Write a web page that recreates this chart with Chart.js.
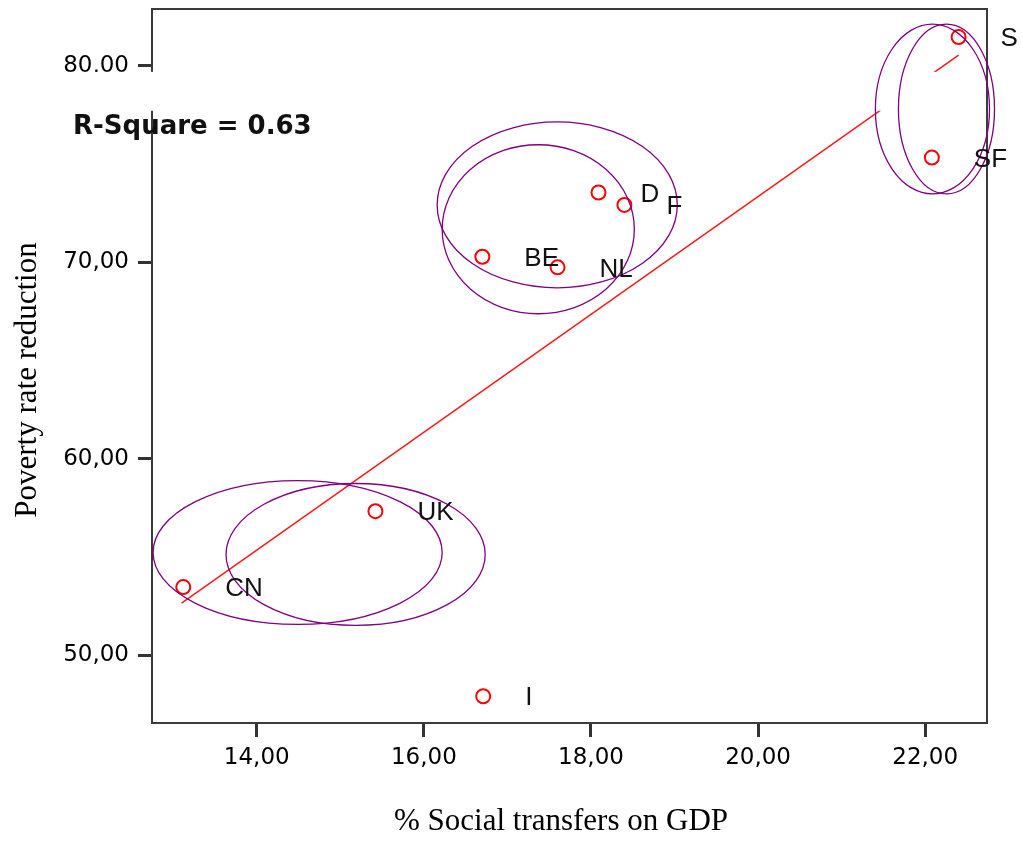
<!DOCTYPE html>
<html>
<head>
<meta charset="utf-8">
<script src="https://cdn.jsdelivr.net/npm/chart.js@4.4.0/dist/chart.umd.min.js"></script>
<style>
  html, body { margin: 0; padding: 0; background: #fff; }
  #wrap { width: 1022px; height: 841px; }
</style>
</head>
<body>
<div id="wrap"><canvas id="chart" width="1022" height="841"></canvas></div>
<script>
// data
var countries = ['S', 'SF', 'D', 'F', 'BE', 'NL', 'UK', 'CN', 'I'];
var transfers = [22.40, 22.08, 18.09, 18.40, 16.70, 17.60, 15.42, 13.12, 16.71];
var povertyReduction = [81.47, 75.34, 73.56, 72.93, 70.29, 69.75, 57.34, 53.48, 47.92];

// fit line end points
var fitX = [13.10, 22.40];
var fitY = [52.66, 80.55];

var xTicks = [14, 16, 18, 20, 22];
var yTicks = [50, 60, 70, 80];

// hand drawn group ellipses (data units)
var ellipseCx = [22.087, 22.255, 17.596, 17.369, 14.489, 15.183];
var ellipseCy = [77.81, 77.81, 72.93, 71.69, 55.24, 55.14];
var ellipseRx = [0.683, 0.575, 1.437, 1.150, 1.730, 1.551];
var ellipseRy = [4.32, 4.32, 4.22, 4.30, 3.66, 3.61];

var rSquareText = 'R-Square = 0.63';
var xTitle = '% Social transfers on GDP';
var yTitle = 'Poverty rate reduction';

var points = transfers.map(function (x, i) { return {x: x, y: povertyReduction[i]}; });
var fitPoints = fitX.map(function (x, i) { return {x: x, y: fitY[i]}; });

function fmt(v) {
    return v.toFixed(2).replace('.', ',');
}

var extras = {
    id: 'extras',
    beforeDatasetsDraw: function (chart) {
        var ctx = chart.ctx, a = chart.chartArea;
        ctx.save();
        ctx.strokeStyle = '#3c3c3c';
        ctx.lineWidth = 2;
        ctx.strokeRect(a.left, a.top, a.right - a.left, a.bottom - a.top);
        ctx.restore();
    },
    afterDatasetsDraw: function (chart) {
        var ctx = chart.ctx, xs = chart.scales.x, ys = chart.scales.y;
        ctx.save();

        // white band pasted over the picture behind the R-Square note
        var bandTop = ys.getPixelForValue(79.70);
        var bandBottom = ys.getPixelForValue(77.72);
        var bandRight = xs.getPixelForValue(22.43);
        ctx.fillStyle = '#fff';
        ctx.fillRect(55, bandTop, bandRight - 55, bandBottom - bandTop);

        // group ellipses
        ctx.strokeStyle = '#800080';
        ctx.lineWidth = 1.3;
        for (var i = 0; i < ellipseCx.length; i++) {
            var cx = xs.getPixelForValue(ellipseCx[i]);
            var cy = ys.getPixelForValue(ellipseCy[i]);
            var rx = Math.abs(xs.getPixelForValue(ellipseCx[i] + ellipseRx[i]) - cx);
            var ry = Math.abs(ys.getPixelForValue(ellipseCy[i] + ellipseRy[i]) - cy);
            ctx.beginPath();
            ctx.ellipse(cx, cy, rx, ry, 0, 0, Math.PI * 2);
            ctx.stroke();
        }

        // point labels
        ctx.fillStyle = '#111';
        ctx.font = '26px "Liberation Sans", Arial, sans-serif';
        ctx.textAlign = 'left';
        ctx.textBaseline = 'middle';
        for (var j = 0; j < countries.length; j++) {
            var px = xs.getPixelForValue(transfers[j]);
            var py = ys.getPixelForValue(povertyReduction[j]);
            ctx.fillText(countries[j], px + 42, py + 2);
        }

        // R-Square note
        ctx.fillStyle = '#111';
        ctx.font = 'bold 26px "DejaVu Sans", sans-serif';
        ctx.fillText(rSquareText, 73, 127);
        ctx.restore();
    },
    afterDraw: function (chart) {
        var ctx = chart.ctx;
        ctx.save();
        ctx.fillStyle = '#000';
        ctx.font = '31px "Liberation Serif", "Times New Roman", serif';
        ctx.textAlign = 'center';
        ctx.textBaseline = 'middle';
        ctx.fillText(xTitle, 561, 822);
        ctx.translate(28, 380);
        ctx.rotate(-Math.PI / 2);
        ctx.fillText(yTitle, 0, 0);
        ctx.restore();
    }
};

var ctx = document.getElementById('chart').getContext('2d');
var chart = new Chart(ctx, {
    type: 'scatter',
    data: {
        datasets: [
            {
                label: 'fit',
                type: 'line',
                data: fitPoints,
                borderColor: '#ff1a1a',
                borderWidth: 1.5,
                pointRadius: 0,
                fill: false
            },
            {
                label: 'countries',
                data: points,
                pointStyle: 'circle',
                pointRadius: 7,
                borderColor: '#ff0000',
                borderWidth: 2,
                backgroundColor: 'rgba(0,0,0,0)'
            }
        ]
    },
    options: {
        responsive: false,
        animation: false,
        layout: {padding: {top: 8, right: 35, left: 0, bottom: 0}},
        plugins: {
            legend: {display: false},
            tooltip: {enabled: false}
        },
        scales: {
            x: {
                type: 'linear',
                min: 12.746,
                max: 22.74,
                afterFit: function (s) {
                    s.height = 118;
                    s.paddingLeft = 0;
                    s.paddingRight = 0;
                },
                afterBuildTicks: function (s) {
                    s.ticks = xTicks.map(function (v) { return {value: v}; });
                },
                border: {display: false},
                grid: {
                    drawOnChartArea: false,
                    drawTicks: true,
                    tickLength: 14,
                    tickWidth: 3,
                    tickColor: '#333'
                },
                ticks: {
                    padding: 7,
                    color: '#000',
                    font: {family: '"DejaVu Sans", sans-serif', size: 23},
                    maxRotation: 0,
                    callback: function (v) { return fmt(v); }
                }
            },
            y: {
                type: 'linear',
                min: 46.56,
                max: 82.9,
                afterFit: function (s) {
                    s.width = 152;
                    s.paddingTop = 0;
                    s.paddingBottom = 0;
                },
                afterBuildTicks: function (s) {
                    s.ticks = yTicks.map(function (v) { return {value: v}; });
                },
                border: {display: false},
                grid: {
                    drawOnChartArea: false,
                    drawTicks: true,
                    tickLength: 14,
                    tickWidth: 3,
                    tickColor: '#333'
                },
                ticks: {
                    padding: 9,
                    color: '#000',
                    font: {family: '"DejaVu Sans", sans-serif', size: 23},
                    callback: function (v) { return fmt(v); }
                }
            }
        }
    },
    plugins: [extras]
});
</script>
</body>
</html>
